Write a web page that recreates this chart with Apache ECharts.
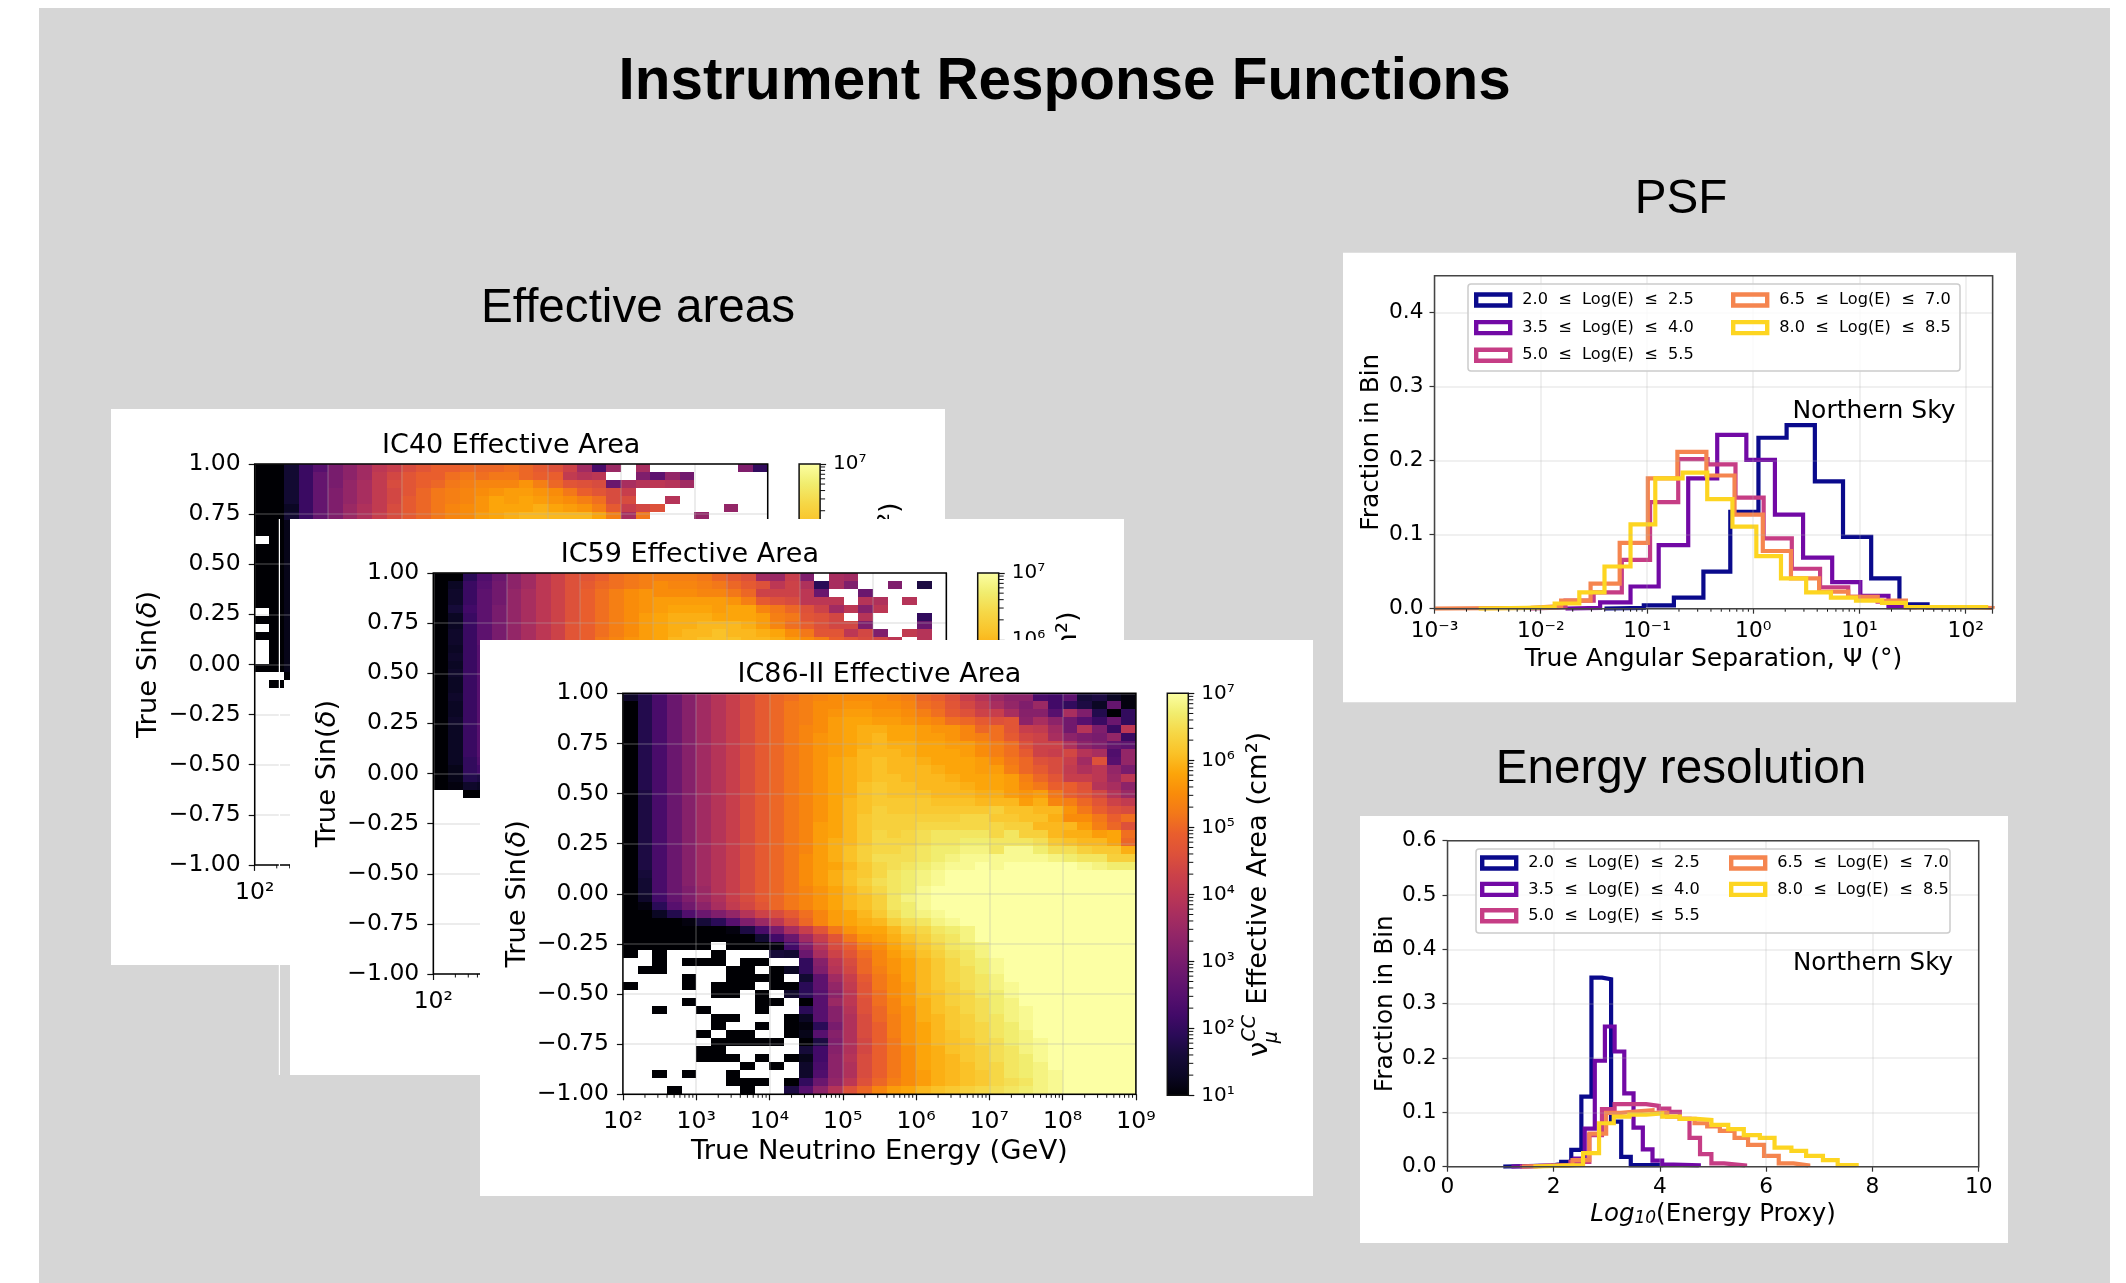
<!DOCTYPE html>
<html>
<head>
<meta charset="utf-8">
<style>html,body{margin:0;padding:0;background:#fff}#c{width:2126px;height:1283px}</style>
<script src="https://cdn.jsdelivr.net/npm/echarts@6/dist/echarts.min.js"></script>
</head>
<body>
<div id="c"></div>
<script>
const _ = null;
// log10(effective area) x 10, top row (sin = 1) first, columns 10^2 .. 10^9
const ic86Rows = [
[14,18,23,28,32,36,39,42,45,48,50,51,53,54,55,55,55,55,54,53,50,49,46,42,39,35,33,33,23,22,26,16,17,13,11],
[10,18,23,28,32,36,39,42,45,48,50,52,53,55,55,56,56,55,55,54,51,50,47,44,41,37,34,31,35,22,20,17,13,27,11],
[10,18,23,28,32,36,39,42,45,48,50,52,53,55,56,57,57,56,56,55,53,51,48,46,43,42,37,32,32,25,37,31,18,10,20],
[10,18,23,28,32,36,39,42,45,48,50,52,53,55,57,58,58,57,57,56,55,54,51,50,48,46,47,33,37,33,29,25,21,28,20],
[10,18,23,28,32,36,39,42,45,48,50,52,54,55,57,58,59,59,58,58,57,56,56,54,50,51,47,42,41,36,29,39,31,21,40],
[10,18,23,28,32,36,39,42,45,48,50,52,54,56,57,58,59,60,58,58,57,57,56,54,53,51,48,44,43,37,33,31,30,34,21],
[10,18,23,28,32,36,39,42,45,48,50,52,54,56,57,58,59,60,59,59,58,58,57,57,55,53,51,46,43,43,38,33,31,27,26],
[10,18,23,28,32,36,39,42,45,48,50,52,54,56,57,58,60,60,60,59,58,58,58,57,55,53,51,48,43,42,44,39,37,24,34],
[10,18,23,28,32,36,39,42,45,48,50,52,54,56,58,59,60,61,60,60,59,58,58,58,57,55,52,50,46,45,42,36,46,25,34],
[10,18,23,28,32,36,39,42,45,48,50,52,54,56,58,59,60,61,60,60,60,59,58,58,57,57,53,50,48,45,41,38,40,34,30],
[10,18,23,28,32,36,39,42,45,48,50,52,54,56,58,59,60,61,61,60,60,60,59,58,58,58,57,53,50,47,42,42,40,35,40],
[10,18,23,28,32,36,39,42,45,48,50,52,54,56,58,59,61,62,61,61,60,60,60,59,58,58,57,54,52,49,49,46,39,37,33],
[10,17,23,28,32,36,39,42,45,48,50,52,54,56,58,59,61,62,61,61,61,60,60,60,59,59,57,56,57,52,49,47,44,39,35],
[10,17,23,28,32,36,39,42,45,48,50,52,54,56,58,60,61,62,62,62,62,61,61,61,60,60,60,57,59,54,53,50,47,43,41],
[10,17,23,28,32,36,39,42,45,48,50,52,54,56,58,60,61,63,62,62,62,62,62,62,62,63,61,61,60,60,56,52,49,46,45],
[10,17,23,28,32,36,39,42,45,48,50,52,54,56,58,60,62,63,63,63,63,63,63,64,64,62,62,61,61,59,55,55,52,49,51],
[10,17,23,28,32,36,39,42,45,48,50,52,54,57,58,60,62,63,63,63,64,64,64,64,64,64,63,63,60,60,60,57,53,50,46],
[10,17,23,28,32,36,39,42,45,48,50,52,54,57,58,60,62,64,63,64,65,66,66,66,66,64,66,63,63,60,59,59,57,58,51],
[10,17,23,28,32,36,39,42,45,48,50,52,54,57,59,60,62,64,64,64,65,66,66,67,67,66,66,66,65,62,61,60,60,58,50],
[10,17,23,28,32,36,39,42,45,48,50,52,54,57,59,61,63,64,64,65,66,67,67,68,68,66,69,69,67,65,65,63,62,62,59],
[10,17,23,28,32,36,39,42,45,48,50,52,55,57,59,61,63,65,65,65,66,67,68,69,69,69,69,69,69,68,67,66,66,63,63],
[10,17,23,28,32,36,39,42,45,48,50,52,55,57,58,60,62,64,65,66,67,68,69,69,70,69,70,70,70,70,70,69,68,67,67],
[10,16,23,28,32,36,39,42,45,48,50,52,55,57,59,61,62,64,66,67,68,69,70,70,70,70,70,70,70,70,70,70,70,70,70],
[10,15,23,28,32,36,39,42,45,48,50,52,55,57,59,61,63,65,66,67,68,69,70,70,70,70,70,70,70,70,70,70,70,70,70],
[10,15,23,28,31,35,39,42,45,48,50,52,54,56,58,60,62,64,66,67,69,70,70,70,70,70,70,70,70,70,70,70,70,70,70],
[10,14,22,27,31,35,38,42,45,48,50,52,54,56,58,60,61,63,66,68,69,70,70,70,70,70,70,70,70,70,70,70,70,70,70],
[10,11,19,25,29,33,37,41,44,47,50,52,54,56,58,60,61,63,66,67,69,70,70,70,70,70,70,70,70,70,70,70,70,70,70],
[10,10,13,18,24,28,31,34,39,43,45,48,51,54,57,58,60,62,65,67,68,69,70,70,70,70,70,70,70,70,70,70,70,70,70],
[10,10,10,10,11,16,19,25,31,35,40,45,50,54,57,58,59,60,63,65,66,68,69,70,70,70,70,70,70,70,70,70,70,70,70],
[10,10,10,10,10,10,10,11,17,23,30,37,42,47,52,56,58,58,60,63,64,66,67,68,70,70,70,70,70,70,70,70,70,70,70],
[10,10,10,10,10,10,10,10,10,15,22,28,36,42,47,52,56,57,59,61,63,65,66,68,70,70,70,70,70,70,70,70,70,70,70],
[10,10,10,10,10,10,_,10,10,10,11,22,31,39,45,49,53,55,58,60,62,64,66,67,68,70,70,70,70,70,70,70,70,70,70],
[10,_,10,_,_,_,10,_,_,_,16,15,28,37,43,47,51,54,57,59,61,63,65,66,68,70,70,70,70,70,70,70,70,70,70],
[_,_,10,_,10,10,10,_,10,10,_,_,20,32,40,45,50,54,56,58,60,62,64,66,67,69,70,70,70,70,70,70,70,70,70],
[_,10,10,_,_,_,_,10,10,_,10,13,20,31,39,44,50,53,56,58,60,62,64,65,67,69,70,70,70,70,70,70,70,70,70],
[_,_,_,_,10,_,_,10,10,10,10,_,15,26,36,42,48,52,55,58,60,62,64,65,66,68,70,70,70,70,70,70,70,70,70],
[10,_,_,_,10,_,10,10,10,_,10,10,19,26,34,41,47,52,55,57,60,62,63,65,66,68,69,70,70,70,70,70,70,70,70],
[_,_,_,_,_,_,10,10,_,10,_,14,19,25,33,40,47,51,55,57,60,61,63,64,66,67,69,70,70,70,70,70,70,70,70],
[_,_,_,_,10,_,_,_,_,10,10,_,10,25,35,40,46,51,54,57,59,61,63,64,65,67,68,70,70,70,70,70,70,70,70],
[_,_,10,_,_,10,_,_,_,10,_,_,19,25,32,39,46,50,54,56,59,61,62,64,65,67,68,69,70,70,70,70,70,70,70],
[_,_,_,_,_,_,10,10,_,_,_,10,13,25,32,38,45,50,53,56,59,60,62,63,65,66,68,69,70,70,70,70,70,70,70],
[_,_,_,_,_,_,10,_,_,10,_,10,11,19,30,38,45,49,53,56,58,60,62,63,64,66,67,69,70,70,70,70,70,70,70],
[_,_,_,_,_,10,_,10,10,_,_,10,12,25,32,38,45,49,53,56,58,60,61,63,64,66,67,68,70,70,70,70,70,70,70],
[_,_,_,_,_,_,10,10,10,10,10,_,10,17,31,38,44,49,52,56,58,60,61,62,64,65,67,68,69,70,70,70,70,70,70],
[_,_,_,_,_,10,10,_,_,_,_,_,16,22,32,38,44,49,52,55,58,59,61,62,63,65,66,68,69,70,70,70,70,70,70],
[_,_,_,_,_,10,10,10,_,10,_,10,12,22,33,39,45,49,52,55,58,59,60,62,63,65,66,67,69,70,70,70,70,70,70],
[_,_,_,_,_,_,_,_,10,_,10,_,14,23,33,38,45,49,52,55,58,59,60,61,63,64,66,67,68,70,70,70,70,70,70],
[_,_,10,_,10,_,_,10,_,_,_,_,14,24,33,38,45,49,52,55,57,59,60,61,62,64,66,67,68,69,70,70,70,70,70],
[_,_,_,_,_,_,_,10,10,10,_,10,20,28,34,40,46,50,53,55,57,59,60,61,62,64,65,66,68,69,70,70,70,70,70],
[_,_,_,10,_,_,_,_,10,_,_,17,25,33,39,46,50,54,57,58,60,61,62,63,64,65,66,67,68,69,70,70,70,70,70]
];
// rows the overlapping cards leave visible (later rows list only the leftmost columns)
const ic59Rows = [
[10,10,19,24,28,33,36,40,43,46,47,49,51,52,53,53,53,53,52,50,48,46,36,35,42,31,_,37,36,_,_,_,_,_,_],
[10,13,21,25,29,33,36,40,43,46,48,50,51,52,53,55,54,54,53,52,50,48,46,40,43,38,19,37,31,_,_,31,_,17,_],
[10,14,21,26,29,34,37,40,43,46,49,51,53,55,56,55,55,55,54,54,52,50,43,43,43,40,28,_,_,28,_,_,_,_,_],
[10,14,21,26,29,34,37,40,43,46,49,51,53,55,56,57,57,57,57,57,56,53,48,46,45,40,40,40,_,39,38,_,39,_,_],
[10,16,22,26,30,34,37,40,43,46,49,51,53,55,56,57,58,58,58,57,58,58,54,52,50,46,43,36,40,32,40,_,_,_,_],
[10,13,21,26,30,34,37,40,43,46,49,51,53,55,57,58,59,59,59,58,58,58,57,53,52,47,46,44,_,39,_,_,_,20,_],
[10,13,21,26,30,34,37,40,43,47,49,51,53,55,57,58,59,59,60,60,60,59,57,54,51,49,46,44,44,31,_,_,_,28,_],
[10,14,21,26,30,34,37,40,43,47,49,51,53,55,57,58,59,60,60,61,60,60,59,58,55,52,47,47,40,44,31,_,41,39,_],
[10,14,21,26,30,34,37,40,43,47,49,52,54,56,57,58,60,60,61,61,61,60,60,59,57,55,53,49,47,45,44,40,_,39,_],
[10,13,21,25],[10,14,21,25],[10,13,21,25],[10,14,21,25],[10,13,21,25],[10,13,21,25],[10,14,21,25],[10,13,21,25],
[10,13,21,25],[10,14,21,25],[10,13,21,25],[10,13,21,25],[10,13,21,25],[10,13,21,25],[10,13,20,24],
[10,12,20,22],[10,12,18,17],[10,11,14,13],[_,_,10,10]
];
const ic40Rows = [
[10,10,15,21,25,30,33,36,40,42,45,47,49,49,50,50,50,51,50,48,46,43,36,23,35,_,37,_,_,_,_,_,_,31,20],
[10,10,15,21,27,30,33,36,41,44,47,49,49,51,52,51,52,52,50,49,49,41,39,40,_,_,31,26,34,29,_,_,_,_,_],
[10,10,15,21,27,30,34,37,41,45,47,49,50,52,53,54,54,54,56,53,50,47,46,45,28,37,39,40,39,36,_,_,_,_,_],
[10,10,15,21,27,31,34,37,41,44,47,50,52,53,54,55,56,57,57,56,55,52,49,47,45,42,_,_,_,_,_,_,_,_,_],
[10,10,15,21,27,31,34,37,41,44,48,50,52,53,54,56,58,57,58,57,56,55,53,51,45,45,_,_,39,_,_,_,_,_,_],
[10,10,13,21,27,31,35,38,41,45,48,50,52,54,55,56,58,58,58,59,58,57,56,53,48,42,44,46,_,_,_,_,34,_,_],
[10,10,15,21,27,31,35,38,42,45,48,50,52,54,55,57,58,59,60,60,60,60,60,58,53,37,52,_,_,_,34,_,_,_,_],
[10,10,12],[10,10,12],[_,10,12],[10,10,12],[10,10,12],[10,10,12],[10,10,12],[10,10,12],[10,10,12],[10,10,12],[10,10,12],
[_,10,12],[10,10,12],[_,10,12],[10,10,12],[_,10,12],[_,10,12],[_,10,12],[10,10,12],[_,_,10],[_,10,_]
];

const legendLabels = ['2.0  ≤  Log(E)  ≤  2.5','3.5  ≤  Log(E)  ≤  4.0','5.0  ≤  Log(E)  ≤  5.5','6.5  ≤  Log(E)  ≤  7.0','8.0  ≤  Log(E)  ≤  8.5'];
const lineColors = ['#0a0a8c','#7209a5','#c63d85','#f5854f','#fdd521'];

// PSF histograms: log10 of bin edges and bin fractions
const psfLogEdges = [
[-1.40,-1.03,-0.747,-0.469,-0.216,0.049,0.314,0.580,0.845,1.110,1.376,1.641,1.906],
[-1.767,-1.441,-1.155,-0.890,-0.612,-0.339,-0.065,0.204,0.469,0.743,1.008,1.273,1.539],
[-2.094,-1.767,-1.502,-1.237,-0.971,-0.706,-0.429,-0.167,0.098,0.363,0.629,0.894,1.171,1.437,1.702],
[-3,-2.094,-1.808,-1.531,-1.257,-0.992,-0.714,-0.441,-0.176,0.090,0.355,0.620,0.894,1.171,1.437,1.988,2.253],
[-2.584,-2.135,-1.869,-1.637,-1.400,-1.155,-0.922,-0.665,-0.433,-0.196,0.029,0.261,0.498,0.731,0.967,1.212,1.437,1.702,2.192]
];
const psfValues = [
[0.001,0.0045,0.015,0.05,0.131,0.231,0.248,0.172,0.097,0.041,0.006,0.001],
[0.001,0.0085,0.03,0.086,0.176,0.235,0.201,0.127,0.069,0.036,0.0175,0.002],
[0.002,0.011,0.022,0.066,0.144,0.202,0.195,0.150,0.095,0.054,0.029,0.016,0.0095,0.002],
[0.001,0.0035,0.011,0.034,0.089,0.176,0.212,0.180,0.127,0.078,0.041,0.023,0.016,0.011,0.002,0.001],
[0.001,0.002,0.007,0.022,0.057,0.114,0.176,0.184,0.148,0.111,0.071,0.041,0.022,0.015,0.011,0.008,0.002,0.002]
];
// Energy-resolution histograms: bin edges and bin fractions
const enEdges = [
[1.05,1.96,2.14,2.33,2.52,2.71,2.91,3.08,3.27,3.45,4.06],
[1.204,2.393,2.583,2.773,2.963,3.146,3.328,3.502,3.677,3.859,4.041,4.255,4.731],
[1.363,2.314,2.670,2.908,3.146,3.423,3.740,3.978,4.176,4.374,4.556,4.754,4.968,5.206,5.602],
[1.403,2.353,2.670,2.987,3.265,3.582,3.859,4.136,4.374,4.651,4.889,5.127,5.404,5.658,5.959,6.236,6.513,6.791],
[1.616,2.552,2.853,3.130,3.423,3.740,4.041,4.374,4.691,4.968,5.285,5.578,5.880,6.157,6.474,6.751,7.068,7.345,7.702]
];
const enValues = [
[0.002,0.005,0.009,0.031,0.129,0.348,0.345,0.083,0.018,0.003],
[0.003,0.015,0.07,0.195,0.258,0.212,0.135,0.072,0.032,0.011,0.004,0.0025],
[0.003,0.009,0.058,0.106,0.115,0.115,0.112,0.107,0.101,0.088,0.053,0.023,0.006,0.0025],
[0.003,0.012,0.061,0.099,0.102,0.104,0.099,0.092,0.088,0.08,0.074,0.066,0.053,0.04,0.02,0.006,0.0025],
[0.003,0.025,0.08,0.092,0.096,0.098,0.092,0.088,0.086,0.077,0.069,0.058,0.053,0.035,0.029,0.02,0.012,0.003]
];

const infernoStops = ['#000004','#0b0724','#160b39','#2a0b57','#420a68','#57106e','#6a176e','#7f1e6c','#932667','#a82e5f','#bc3754','#cc4248','#dd513a','#e95e2d','#f37819','#f98c0a','#fca50a','#fac228','#f6d746','#f1ed6f','#fcffa4'];
function hexRgb(h){return [1,3,5].map(i=>parseInt(h.substr(i,2),16));}
function inferno(t){
  const n=infernoStops.length-1;
  t=Math.max(0,Math.min(1,t))*n; const i=Math.min(n-1,Math.floor(t)), f=t-i;
  const a=hexRgb(infernoStops[i]), b=hexRgb(infernoStops[i+1]);
  return 'rgb('+a.map((v,k)=>Math.round(v+(b[k]-v)*f)).join(',')+')';
}
const SUP={'0':'⁰','1':'¹','2':'²','3':'³','4':'⁴','5':'⁵','6':'⁶','7':'⁷','8':'⁸','9':'⁹','-':'⁻'};
function powLabel(v){
  const e=Math.log10(v), r=Math.round(e);
  if(Math.abs(e-r)>1e-6) return '';
  return '10'+String(r).split('').map(c=>SUP[c]).join('');
}
const FONT='"DejaVu Sans"', HEAD='"Liberation Sans"';
const W=513, H=401;
const grids=[],xAxes=[],yAxes=[],series=[],graphics=[],legends=[];

function text(x,y,t,size,z,extra){
  graphics.push(Object.assign({type:'text',x,y,z,silent:true,
    style:Object.assign({text:t,fontFamily:FONT,fontSize:size,fill:'#000',align:'center',verticalAlign:'middle'},extra&&extra.style||{})},extra&&extra.el||{}));
}
function card(x,y,w,h,z){graphics.push({type:'rect',z,silent:true,shape:{x,y,width:w,height:h},style:{fill:'#fff'}});}
function minorTicks(gi,z,values,horizontal,len){
  series.push({type:'custom',xAxisIndex:gi,yAxisIndex:gi,z,silent:true,animation:false,
    data:values.map(v=>[v]),
    encode:horizontal?{x:0}:{y:0},
    renderItem(p,api){
      const ax=xAxes[gi], ay=yAxes[gi];
      const pt=horizontal?api.coord([api.value(0),ay.min]):api.coord([ax.max,api.value(0)]);
      return {type:'line',shape:horizontal?{x1:pt[0],y1:pt[1],x2:pt[0],y2:pt[1]+len}:{x1:pt[0],y1:pt[1],x2:pt[0]+len,y2:pt[1]},
        style:{stroke:'#111',lineWidth:1}};
    }});
}
function decadeMinors(a,b,limit){
  const out=[];
  for(let e=a;e<b;e++)for(let m=2;m<10;m++){const v=m*Math.pow(10,e); if(!limit||v<limit) out.push(v);}
  return out;
}
function addHeat(rows,title,L,T,z){
  const gi=grids.length;
  grids.push({left:L,top:T,width:W,height:H,show:true,backgroundColor:'transparent',borderColor:'#000',borderWidth:1.5,z:z+3});
  xAxes.push({type:'log',logBase:10,min:1e2,max:1e9,gridIndex:gi,z:z+2,splitNumber:10,
    axisLine:{show:false,onZero:false},axisTick:{length:6,lineStyle:{color:'#111',width:1.2}},
    axisLabel:{formatter:powLabel,fontFamily:FONT,fontSize:23.5,color:'#000',margin:16},
    splitLine:{show:true,lineStyle:{color:'rgba(176,176,176,0.32)',width:1.5}},
    name:'True Neutrino Energy (GeV)',nameLocation:'middle',nameGap:44,nameTextStyle:{fontFamily:FONT,fontSize:27.4,color:'#000'}});
  yAxes.push({type:'value',min:-1,max:1,interval:0.25,gridIndex:gi,z:z+2,
    axisLine:{show:false,onZero:false},axisTick:{length:6,lineStyle:{color:'#111',width:1.2}},
    axisLabel:{formatter:v=>v.toFixed(2).replace('-','−'),fontFamily:FONT,fontSize:23.5,color:'#000',margin:14,padding:[4,0,0,0]},
    splitLine:{show:true,lineStyle:{color:'rgba(176,176,176,0.32)',width:1.5}},
    name:'True Sin({i|δ})',nameLocation:'middle',nameGap:92,
    nameTextStyle:{fontFamily:FONT,fontSize:27.4,color:'#000',rich:{i:{fontFamily:FONT,fontSize:27.4,fontStyle:'italic',color:'#000'}}}});
  const cells=[];
  rows.forEach((row,r)=>row.forEach((v,c)=>{
    if(v===null) return;
    cells.push([Math.pow(10,2+c*0.2),Math.pow(10,2+(c+1)*0.2),1-r*0.04,1-(r+1)*0.04,v]);
  }));
  series.push({type:'custom',name:title,xAxisIndex:gi,yAxisIndex:gi,z:z+1,silent:true,animation:false,progressive:0,
    data:cells,encode:{x:[0,1],y:[2,3]},
    renderItem(p,api){
      const a=api.coord([api.value(0),api.value(2)]), b=api.coord([api.value(1),api.value(3)]);
      const x0=Math.round(a[0]),x1=Math.round(b[0]),y0=Math.round(a[1]),y1=Math.round(b[1]);
      return {type:'rect',shape:{x:x0,y:y0,width:x1-x0,height:y1-y0},style:{fill:inferno((api.value(4)-10)/60)}};
    }});
  minorTicks(gi,z+2,decadeMinors(2,9),true,3.5);
  text(L+W/2,T-18,title,27,z+3);
  // colour bar
  const ci=grids.length, cx=L+544.4;
  grids.push({left:cx,top:T,width:21,height:H+1,show:true,borderColor:'#111',borderWidth:1.5,z:z+1,
    backgroundColor:new echarts.graphic.LinearGradient(0,1,0,0,infernoStops.map((c,i)=>({offset:i/(infernoStops.length-1),color:c})))});
  xAxes.push({type:'value',min:0,max:1,gridIndex:ci,show:false,z:z+2});
  yAxes.push({type:'log',logBase:10,min:10,max:1e7,gridIndex:ci,position:'right',z:z+2,splitNumber:10,
    axisLine:{show:false,onZero:false},axisTick:{length:6,lineStyle:{color:'#111',width:1.2}},
    axisLabel:{formatter:powLabel,fontFamily:FONT,fontSize:20,color:'#000',margin:13},splitLine:{show:false}});
  minorTicks(ci,z+2,decadeMinors(1,7),false,5);
  const lx=L+636, rot={el:{rotation:Math.PI/2}};
  text(lx,T+175,'Effective Area (cm²)',27.3,z+3,rot);
  text(lx+1,T+356,'ν',27.3,z+3,rot);
  text(lx-9,T+335,'CC',19,z+3,{el:{rotation:Math.PI/2},style:{fontStyle:'italic'}});
  text(lx+13,T+344,'μ',19,z+3,{el:{rotation:Math.PI/2},style:{fontStyle:'italic'}});
}
function addHist(edges,values,g,xAxis,yTicks,yMax,z,yname,ygap){
  const gi=grids.length;
  grids.push(Object.assign({show:true,backgroundColor:'transparent',borderColor:'#444',borderWidth:1.5,z:z+3},g));
  xAxes.push(Object.assign({gridIndex:gi,z:z+2,
    axisLine:{show:false,onZero:false},axisTick:{length:5,lineStyle:{color:'#333',width:1.2}},
    splitLine:{show:true,lineStyle:{color:'rgba(176,176,176,0.25)',width:1.5}},
    nameLocation:'middle'},xAxis));
  yAxes.push({type:'value',min:0,max:yMax,interval:0.1,gridIndex:gi,z:z+2,
    axisLine:{show:false,onZero:false},axisTick:{length:5,lineStyle:{color:'#333',width:1.2},customValues:yTicks},
    axisLabel:{customValues:yTicks,formatter:v=>v.toFixed(1),fontFamily:FONT,fontSize:21.7,color:'#000',margin:11,padding:[4,0,0,0]},
    splitLine:{show:true,lineStyle:{color:'rgba(176,176,176,0.25)',width:1.5}},
    name:yname,nameLocation:'middle',nameGap:ygap,nameTextStyle:{fontFamily:FONT,fontSize:24.8,color:'#000'}});
  edges.forEach((e,s)=>{
    const pts=[[e[0],0]];
    values[s].forEach((v,i)=>pts.push([e[i],v]));
    pts.push([e[e.length-1],0]);
    series.push({type:'line',name:legendLabels[s],xAxisIndex:gi,yAxisIndex:gi,z:z+1,step:'end',showSymbol:false,symbol:'none',silent:true,animation:false,
      data:pts,lineStyle:{color:lineColors[s],width:4.2,join:'miter'},itemStyle:{color:lineColors[s]}});
  });
}
function addLegendBox(x,y,w,h,z,colA,colB,top,pitch){
  graphics.push({type:'rect',z,silent:true,shape:{x,y,width:w,height:h,r:3},style:{fill:'rgba(255,255,255,0.8)',stroke:'#ccc',lineWidth:1.5}});
  [[colA,[0,1,2]],[colB,[3,4]]].forEach(([lx,idx])=>{
    legends.push({left:lx,top,orient:'vertical',padding:0,itemGap:pitch,itemWidth:34,itemHeight:11,z:z+1,selectedMode:false,
      textStyle:{fontFamily:FONT,fontSize:16.2,color:'#000',padding:[0,0,0,7]},
      data:idx.map(i=>({name:legendLabels[i],icon:'rect',itemStyle:{color:'transparent',borderColor:lineColors[i],borderWidth:4.4}}))});
  });
}

// page
graphics.push({type:'rect',z:1,silent:true,shape:{x:39,y:8,width:2071,height:1275},style:{fill:'#d6d6d6'}});
text(1064.6,83,'Instrument Response Functions',58.4,2,{style:{fontFamily:HEAD,fontWeight:'bold'}});
text(638,309,'Effective areas',47.6,2,{style:{fontFamily:HEAD}});
text(1681,200,'PSF',47.6,2,{style:{fontFamily:HEAD}});
text(1681,770,'Energy resolution',47.6,2,{style:{fontFamily:HEAD}});

card(111,409,834,556,10);
addHeat(ic40Rows,'IC40 Effective Area',254.7,463.9,10);
graphics.push({type:'rect',z:15,silent:true,shape:{x:278.8,y:519,width:1.2,height:556},style:{fill:'#fff'}});
card(290,519,834,556,20);
addHeat(ic59Rows,'IC59 Effective Area',433.3,573,20);
card(480,640,833,556,30);
addHeat(ic86Rows,'IC86-II Effective Area',622.9,693.3,30);

// PSF
card(1343,252.7,673,449.6,40);
addHist(psfLogEdges.map(e=>e.map(v=>Math.pow(10,v))),psfValues,{left:1434.5,top:275.7,width:558.1,height:333},
  {type:'log',logBase:10,min:1e-3,max:179,splitNumber:10,
   axisLabel:{formatter:powLabel,fontFamily:FONT,fontSize:21.7,color:'#000',margin:12},
   name:'True Angular Separation, Ψ (°)',nameGap:38,nameTextStyle:{fontFamily:FONT,fontSize:25,color:'#000'}},
  [0,0.1,0.2,0.3,0.4],0.45,40,'Fraction in Bin',50);
minorTicks(grids.length-1,42,decadeMinors(-3,3,179),true,3);
addLegendBox(1468,284,492,87,44,1474,1731,292,11.6);
text(1874,411,'Northern Sky',25,45);

// Energy resolution
card(1360,816,648,427,40);
addHist(enEdges,enValues,{left:1447.5,top:840.7,width:531.2,height:326},
  {type:'value',min:0,max:10,interval:2,
   axisLabel:{formatter:v=>String(v),fontFamily:FONT,fontSize:21.7,color:'#000',margin:10},
   name:'{i|Log}{s|10}{r|(Energy Proxy)}',nameGap:35,
   nameTextStyle:{fontFamily:FONT,fontSize:24.5,color:'#000',rich:{
     i:{fontFamily:FONT,fontSize:24.5,fontStyle:'italic',color:'#000'},
     s:{fontFamily:FONT,fontSize:17,fontStyle:'italic',color:'#000',verticalAlign:'bottom',padding:[8,0,0,0]},
     r:{fontFamily:FONT,fontSize:24.5,color:'#000'}}}},
  [0,0.1,0.2,0.3,0.4,0.5,0.6],0.6,40,'Fraction in Bin',47);
addLegendBox(1476,849,474,84,44,1480,1729,855,10.4);
text(1873,964,'Northern Sky',24.5,45);

const chart=echarts.init(document.getElementById('c'),null,{renderer:'canvas',width:2126,height:1283});
chart.setOption({animation:false,backgroundColor:'#fff',grid:grids,xAxis:xAxes,yAxis:yAxes,series,legend:legends,graphic:{elements:graphics}});
</script>
</body>
</html>
